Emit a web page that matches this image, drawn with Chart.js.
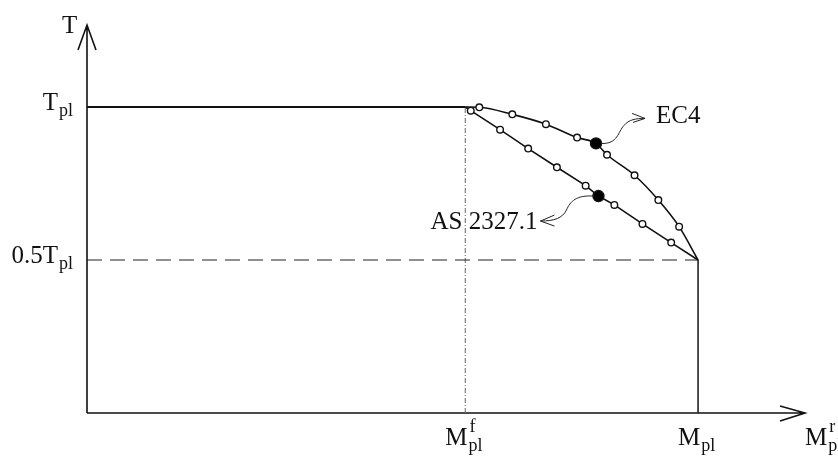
<!DOCTYPE html>
<html>
<head>
<meta charset="utf-8">
<script src="https://cdn.jsdelivr.net/npm/chart.js@4.4.1/dist/chart.umd.min.js"></script>
<style>
  html, body { margin: 0; padding: 0; background: #ffffff; }
  #wrap { width: 838px; height: 458px; position: relative; }
</style>
</head>
<body>
<div id="wrap"><canvas id="c" width="838" height="458"></canvas></div>
<script>
// Shear force T (as a fraction of Tpl) against moment (as a fraction of Mpl)
const mfPl = 0.619;          // M^f_pl relative to M_pl
const mPl = 1.0;
const tPl = 1.0;
const tHalf = 0.5;

// EC4 interaction curve
const ec4M = [0.619, 0.642, 0.696, 0.751, 0.802, 0.833, 0.851, 0.896, 0.935, 0.969, 1.0];
const ec4T = [1.000, 0.999, 0.976, 0.944, 0.900, 0.881, 0.844, 0.777, 0.696, 0.609, 0.5];
const ec4Solid = 5;          // index of the highlighted point

// AS 2327.1 interaction line
const asM = [0.619, 0.628, 0.676, 0.722, 0.769, 0.816, 0.837, 0.863, 0.909, 0.956, 1.0];
const asT = [1.000, 0.988, 0.926, 0.864, 0.803, 0.743, 0.709, 0.680, 0.618, 0.557, 0.5];
const asSolid = 6;

// axis labels: [value, main text, superscript, subscript]
const yLabels = [[tPl, 'T', '', 'pl'], [tHalf, '0.5T', '', 'pl']];
const xLabels = [[mfPl, 'M', 'f', 'pl'], [mPl, 'M', '', 'pl']];

const pts = (xs, ys) => xs.map((x, i) => ({ x: x, y: ys[i] }));
const FONT = '"Liberation Serif", "Times New Roman", serif';
const MAIN = '25px ' + FONT;
const SMALL = '18px ' + FONT;

function markerRadius(n, solid) {
  return (ctx) => {
    const i = ctx.dataIndex;
    if (i === 0 || i === n - 1) return 0;
    return i === solid ? 5.5 : 3.3;
  };
}
function markerFill(solid) {
  return (ctx) => ctx.dataIndex === solid ? '#000000' : '#ffffff';
}

// Axes with arrowheads, tick labels and callouts
const decor = {
  id: 'decor',
  beforeDatasetsDraw(chart) {
    const { ctx, scales: { x, y } } = chart;
    const x0 = x.getPixelForValue(0), y0 = y.getPixelForValue(0);
    const xEnd = x.getPixelForValue(x.max), yEnd = y.getPixelForValue(y.max);
    ctx.save();
    ctx.strokeStyle = '#111111';
    ctx.lineWidth = 1.6;
    ctx.beginPath();
    ctx.moveTo(x0, y0); ctx.lineTo(x0, yEnd);
    ctx.moveTo(x0 - 9, yEnd + 25); ctx.lineTo(x0, yEnd); ctx.lineTo(x0 + 9, yEnd + 25);
    ctx.moveTo(x0, y0); ctx.lineTo(xEnd, y0);
    ctx.moveTo(xEnd - 25, y0 - 7); ctx.lineTo(xEnd, y0); ctx.lineTo(xEnd - 25, y0 + 8);
    ctx.stroke();
    ctx.restore();
  },
  afterDatasetsDraw(chart) {
    const { ctx, scales: { x, y } } = chart;
    const x0 = x.getPixelForValue(0), y0 = y.getPixelForValue(0);
    const yEnd = y.getPixelForValue(y.max), xEnd = x.getPixelForValue(x.max);
    ctx.save();
    ctx.fillStyle = '#111111';
    ctx.textBaseline = 'alphabetic';

    function label(left, base, main, sup, sub) {
      ctx.font = MAIN;
      ctx.fillText(main, left, base);
      const w = ctx.measureText(main).width;
      ctx.font = SMALL;
      if (sup) ctx.fillText(sup, left + w + 2, base - 13);
      if (sub) ctx.fillText(sub, left + w + 1, base + 6);
    }
    function width(main, sub) {
      ctx.font = MAIN;
      const w = ctx.measureText(main).width;
      ctx.font = SMALL;
      return w + 1 + ctx.measureText(sub).width;
    }

    // axis titles
    ctx.font = MAIN;
    ctx.fillText('T', x0 - 25, yEnd + 8);
    label(xEnd, y0 + 32, 'M', 'r', 'pl');

    // y tick labels
    yLabels.forEach(([v, main, sup, sub]) => {
      const py = y.getPixelForValue(v);
      label(x0 - 14 - width(main, sub), py + 3, main, sup, sub);
    });
    // x tick labels
    xLabels.forEach(([v, main, sup, sub]) => {
      const px = x.getPixelForValue(v);
      label(px - 20, y0 + 32, main, sup, sub);
    });

    // callouts
    ctx.strokeStyle = '#222222';
    ctx.lineWidth = 1;
    const e = { x: x.getPixelForValue(ec4M[ec4Solid]), y: y.getPixelForValue(ec4T[ec4Solid]) };
    ctx.beginPath();
    ctx.moveTo(e.x + 5, e.y);
    ctx.bezierCurveTo(e.x + 22, e.y + 1, e.x + 22, e.y - 12, e.x + 28, e.y - 18);
    ctx.bezierCurveTo(e.x + 33, e.y - 24, e.x + 40, e.y - 25, e.x + 49, e.y - 25);
    ctx.moveTo(e.x + 36, e.y - 30); ctx.lineTo(e.x + 49, e.y - 25); ctx.lineTo(e.x + 37, e.y - 21);
    ctx.stroke();
    ctx.font = MAIN;
    ctx.fillText('EC4', e.x + 60, e.y - 20);

    const a = { x: x.getPixelForValue(asM[asSolid]), y: y.getPixelForValue(asT[asSolid]) };
    ctx.beginPath();
    ctx.moveTo(a.x - 5, a.y);
    ctx.bezierCurveTo(a.x - 22, a.y - 1, a.x - 28, a.y + 5, a.x - 32, a.y + 14);
    ctx.bezierCurveTo(a.x - 36, a.y + 22, a.x - 44, a.y + 25, a.x - 58, a.y + 25);
    ctx.moveTo(a.x - 44, a.y + 19); ctx.lineTo(a.x - 58, a.y + 25); ctx.lineTo(a.x - 44, a.y + 30);
    ctx.stroke();
    ctx.textAlign = 'right';
    ctx.fillText('AS 2327.1', a.x - 61, a.y + 33);
    ctx.restore();
  }
};

new Chart(document.getElementById('c'), {
  type: 'scatter',
  data: {
    datasets: [
      { // plastic shear plateau
        data: [{ x: 0, y: tPl }, { x: mfPl, y: tPl }],
        showLine: true, borderColor: '#111111', borderWidth: 2, pointRadius: 0
      },
      { // 0.5 Tpl reference
        data: [{ x: 0, y: tHalf }, { x: mPl, y: tHalf }],
        showLine: true, borderColor: '#222222', borderWidth: 1.2, borderDash: [15, 8], pointRadius: 0
      },
      { // M^f_pl reference
        data: [{ x: mfPl, y: 0 }, { x: mfPl, y: tPl }],
        showLine: true, borderColor: '#666666', borderWidth: 1, borderDash: [5, 2, 1, 2], pointRadius: 0
      },
      { // M_pl reference
        data: [{ x: mPl, y: 0 }, { x: mPl, y: tHalf }],
        showLine: true, borderColor: '#222222', borderWidth: 1.6, pointRadius: 0
      },
      { // AS 2327.1
        data: pts(asM, asT),
        showLine: true, borderColor: '#111111', borderWidth: 1.6,
        pointRadius: markerRadius(asM.length, asSolid),
        pointBackgroundColor: markerFill(asSolid),
        pointBorderColor: '#111111', pointBorderWidth: 1.4
      },
      { // EC4
        data: pts(ec4M, ec4T),
        showLine: true, borderColor: '#111111', borderWidth: 1.6,
        cubicInterpolationMode: 'monotone',
        pointRadius: markerRadius(ec4M.length, ec4Solid),
        pointBackgroundColor: markerFill(ec4Solid),
        pointBorderColor: '#111111', pointBorderWidth: 1.4
      }
    ]
  },
  options: {
    responsive: false,
    animation: false,
    layout: { padding: { left: 87, right: 33, top: 25, bottom: 45 } },
    plugins: { legend: { display: false }, tooltip: { enabled: false } },
    scales: {
      x: { type: 'linear', min: 0, max: 1.175, display: false },
      y: { type: 'linear', min: 0, max: 1.268, display: false }
    }
  },
  plugins: [decor]
});
</script>
</body>
</html>
